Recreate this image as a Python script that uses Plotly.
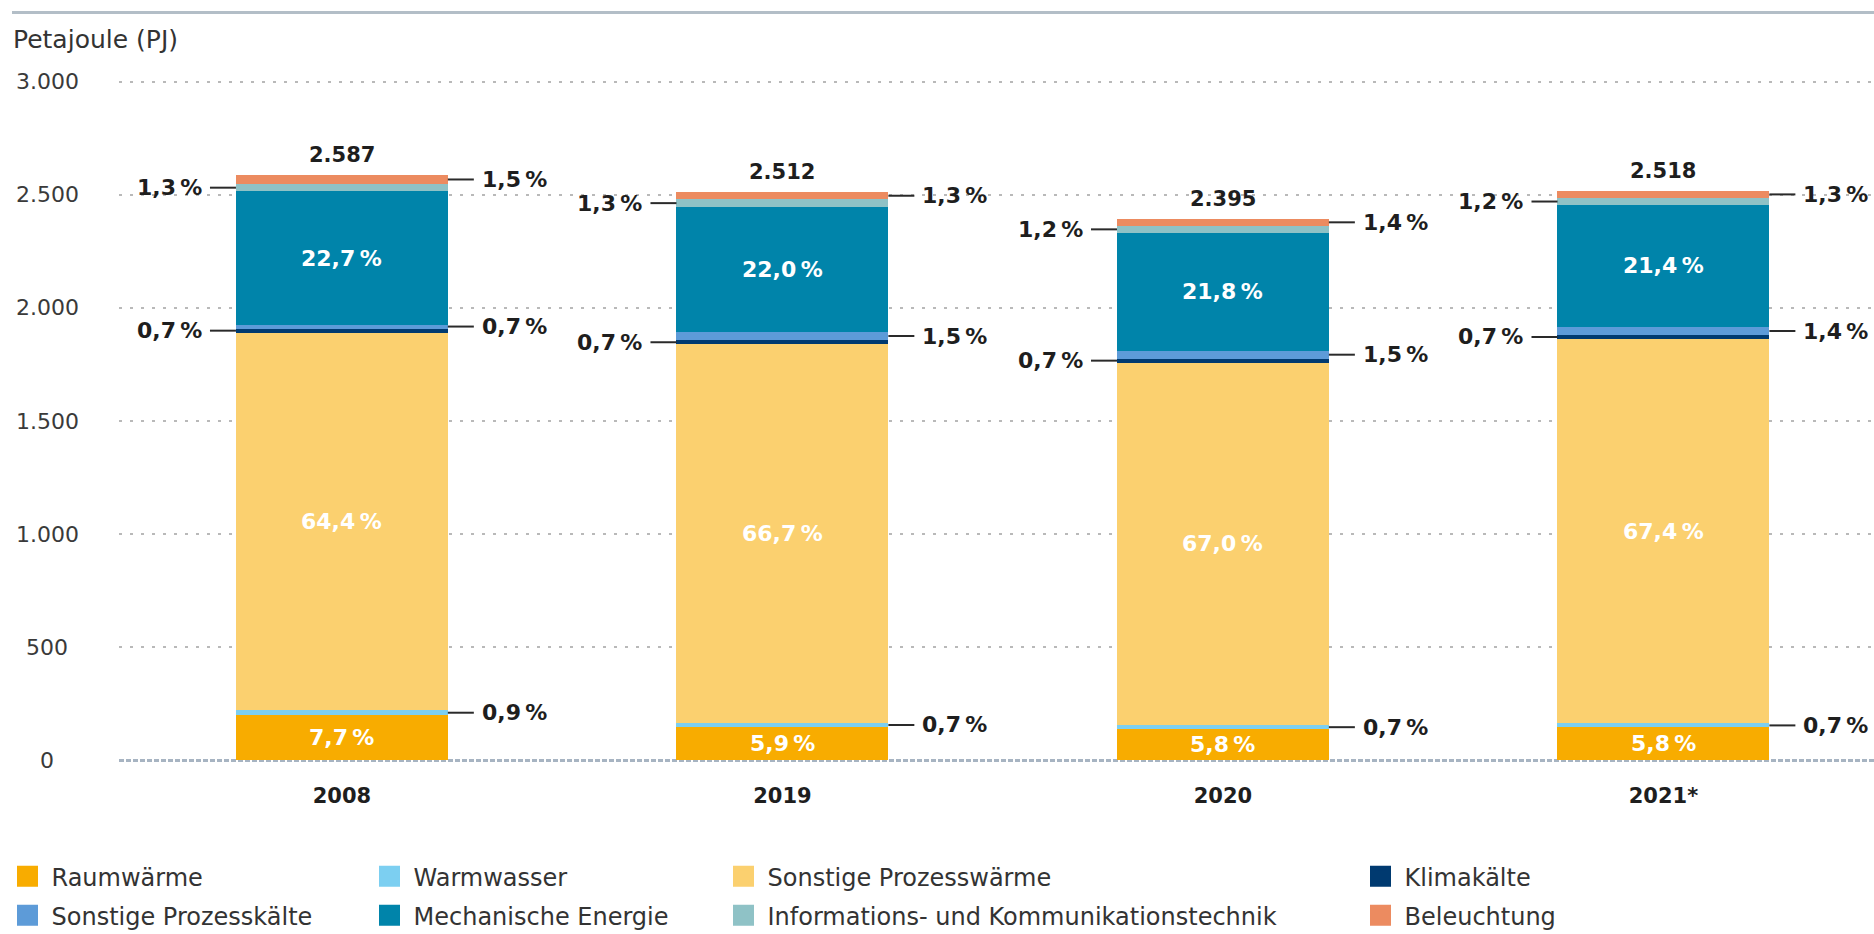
import plotly.graph_objects as go

# ---------------- data ----------------
years = ["2008", "2019", "2020", "2021*"]
totals = [2587, 2512, 2395, 2518]
total_labels = ["2.587", "2.512", "2.395", "2.518"]

categories = [
    "Raumwärme",
    "Warmwasser",
    "Sonstige Prozesswärme",
    "Klimakälte",
    "Sonstige Prozesskälte",
    "Mechanische Energie",
    "Informations- und Kommunikationstechnik",
    "Beleuchtung",
]

# shares in percent (per year)
share_raumwaerme = [7.7, 5.9, 5.8, 5.8]
share_warmwasser = [0.9, 0.7, 0.7, 0.7]
share_prozesswaerme = [64.4, 66.7, 67.0, 67.4]
share_klimakaelte = [0.7, 0.7, 0.7, 0.7]
share_prozesskaelte = [0.7, 1.5, 1.5, 1.4]
share_mechanik = [22.7, 22.0, 21.8, 21.4]
share_ikt = [1.3, 1.3, 1.2, 1.2]
share_beleuchtung = [1.5, 1.3, 1.4, 1.3]

y_ticks = [0, 500, 1000, 1500, 2000, 2500, 3000]
y_tick_labels = ["0", "500", "1.000", "1.500", "2.000", "2.500", "3.000"]

# ---------------- styling ----------------
colors = ["#F8AC00", "#7CCFF1", "#FBD06F", "#003A70",
          "#5D9BD8", "#0084AA", "#8FC2C6", "#EC8B60"]
# where the percentage label goes: inside / right / left
label_pos = ["inside", "right", "inside", "left", "right", "inside", "left", "right"]

shares = [share_raumwaerme, share_warmwasser, share_prozesswaerme, share_klimakaelte,
          share_prozesskaelte, share_mechanik, share_ikt, share_beleuchtung]

FONT = "DejaVu Sans"
TEXT_DARK = "#1e1e1e"

# pixel geometry of the plot area
FIG_W, FIG_H = 1874, 934
L, R = 119, 0
T_PX, B_PX = 59.4, 764.52
PW = FIG_W - L - R
PH = B_PX - T_PX
Y_RANGE = [-20, 3100]
X_RANGE = [-0.506, 3.478]
BAR_W = 0.481
SLOT_PX = PW / (X_RANGE[1] - X_RANGE[0])


def px_x(px):
    return (px - L) / PW


def px_y(py):
    return (B_PX - py) / PH


x_pos = list(range(len(years)))

# values in PJ derived from shares and totals
values = []
for s in shares:
    values.append([s[i] / sum(sh[i] for sh in shares) * totals[i] for i in range(len(years))])

fig = go.Figure()

for c, cat in enumerate(categories):
    fig.add_trace(go.Bar(
        x=x_pos, y=values[c], name=cat, width=BAR_W,
        marker=dict(color=colors[c], line=dict(width=0)),
        showlegend=False, legendgroup=cat, hoverinfo="skip",
    ))

# legend-only entries (bigger squares), one legend per entry
legend_cols_px = [27.5, 389.5, 743.5, 1380.5]
legend_rows_px = [876.0, 915.0]
legend_layouts = {}
for c, cat in enumerate(categories):
    col = c % 4
    row = c // 4
    lname = "legend" if c == 0 else f"legend{c + 1}"
    fig.add_trace(go.Scatter(
        x=[None], y=[None], mode="markers", name=cat, legendgroup=cat,
        marker=dict(symbol="square", size=16, color=colors[c],
                    line=dict(width=5, color=colors[c])),
        showlegend=True, legend=lname,
    ))
    legend_layouts[lname] = dict(
        x=px_x(legend_cols_px[col] - 24), xanchor="left",
        y=px_y(legend_rows_px[row]), yanchor="middle",
        orientation="v", itemwidth=38,
        font=dict(family=FONT, size=24, color="#333333"),
        bgcolor="rgba(0,0,0,0)", borderwidth=0,
        itemclick=False, itemdoubleclick=False,
    )

annotations = []
shapes = []

# stacked positions for labels
half = BAR_W / 2
line_len = 26 / SLOT_PX
text_off = 32 / SLOT_PX
for i in range(len(years)):
    base = 0.0
    for c in range(len(categories)):
        v = values[c][i]
        mid = base + v / 2
        txt = f"{shares[c][i]:.1f}".replace(".", ",") + "\u2009%"
        pos = label_pos[c]
        if pos == "inside":
            annotations.append(dict(
                x=x_pos[i], y=mid, xref="x", yref="y", text=txt, showarrow=False,
                xanchor="center", yanchor="middle",
                font=dict(family=FONT, size=22, color="white", weight="bold"),
            ))
        elif pos == "right":
            x0 = x_pos[i] + half
            shapes.append(dict(type="line", xref="x", yref="y", x0=x0, x1=x0 + line_len,
                               y0=mid, y1=mid, line=dict(color="#2a2a2a", width=2)))
            annotations.append(dict(
                x=x0 + text_off, y=mid, xref="x", yref="y", text=txt, showarrow=False,
                xanchor="left", yanchor="middle",
                font=dict(family=FONT, size=22, color=TEXT_DARK, weight="bold"),
            ))
        else:
            x0 = x_pos[i] - half
            shapes.append(dict(type="line", xref="x", yref="y", x0=x0 - line_len, x1=x0,
                               y0=mid, y1=mid, line=dict(color="#2a2a2a", width=2)))
            annotations.append(dict(
                x=x0 - text_off, y=mid, xref="x", yref="y", text=txt, showarrow=False,
                xanchor="right", yanchor="middle",
                font=dict(family=FONT, size=22, color=TEXT_DARK, weight="bold"),
            ))
        base += v
    # total on top
    annotations.append(dict(
        x=x_pos[i], y=totals[i], xref="x", yref="y", text=total_labels[i],
        showarrow=False, xanchor="center", yanchor="bottom", yshift=6,
        font=dict(family=FONT, size=21, color=TEXT_DARK, weight="bold"),
    ))

# y tick labels (centered)
for tv, tl in zip(y_ticks, y_tick_labels):
    annotations.append(dict(
        x=px_x(47), y=tv, xref="paper", yref="y", text=tl, showarrow=False,
        xanchor="center", yanchor="middle",
        font=dict(family=FONT, size=22, color="#3a3a3a"),
    ))

# axis unit
annotations.append(dict(
    x=px_x(11), y=px_y(40), xref="paper", yref="paper", text="Petajoule (PJ)",
    showarrow=False, xanchor="left", yanchor="middle",
    font=dict(family=FONT, size=25, color="#333333"),
))

# top rule
shapes.append(dict(type="line", xref="paper", yref="paper",
                   x0=px_x(12), x1=1, y0=px_y(13), y1=px_y(13),
                   line=dict(color="#b3bec7", width=3)))
# zero line
shapes.append(dict(type="line", xref="paper", yref="y", x0=0, x1=1, y0=0, y1=0,
                   layer="below", line=dict(color="#a7b4c2", width=3, dash="5px,2px")))

fig.update_layout(
    width=FIG_W, height=FIG_H,
    margin=dict(l=L, r=R, t=T_PX, b=FIG_H - B_PX, pad=0, autoexpand=False),
    paper_bgcolor="white", plot_bgcolor="white",
    barmode="stack", bargap=0,
    font=dict(family=FONT, color=TEXT_DARK),
    annotations=annotations, shapes=shapes,
    xaxis=dict(
        range=X_RANGE, tickmode="array", tickvals=x_pos, ticktext=years,
        showgrid=False, zeroline=False, showline=False, ticks="",
        tickfont=dict(family=FONT, size=21, color=TEXT_DARK, weight="bold"),
        ticklabelstandoff=16, fixedrange=True, automargin=False,
    ),
    yaxis=dict(
        range=Y_RANGE, tickmode="array", tickvals=y_ticks[1:],
        showticklabels=False, showgrid=True, gridcolor="#b9b9b9", gridwidth=2,
        griddash="3px,8px", zeroline=False, showline=False, ticks="", fixedrange=True,
        automargin=False,
    ),
    hovermode=False,
    **legend_layouts,
)

fig.write_html("out.html", config={"displayModeBar": False},
               post_script="document.body.style.margin='0';document.body.style.overflow='hidden';")
